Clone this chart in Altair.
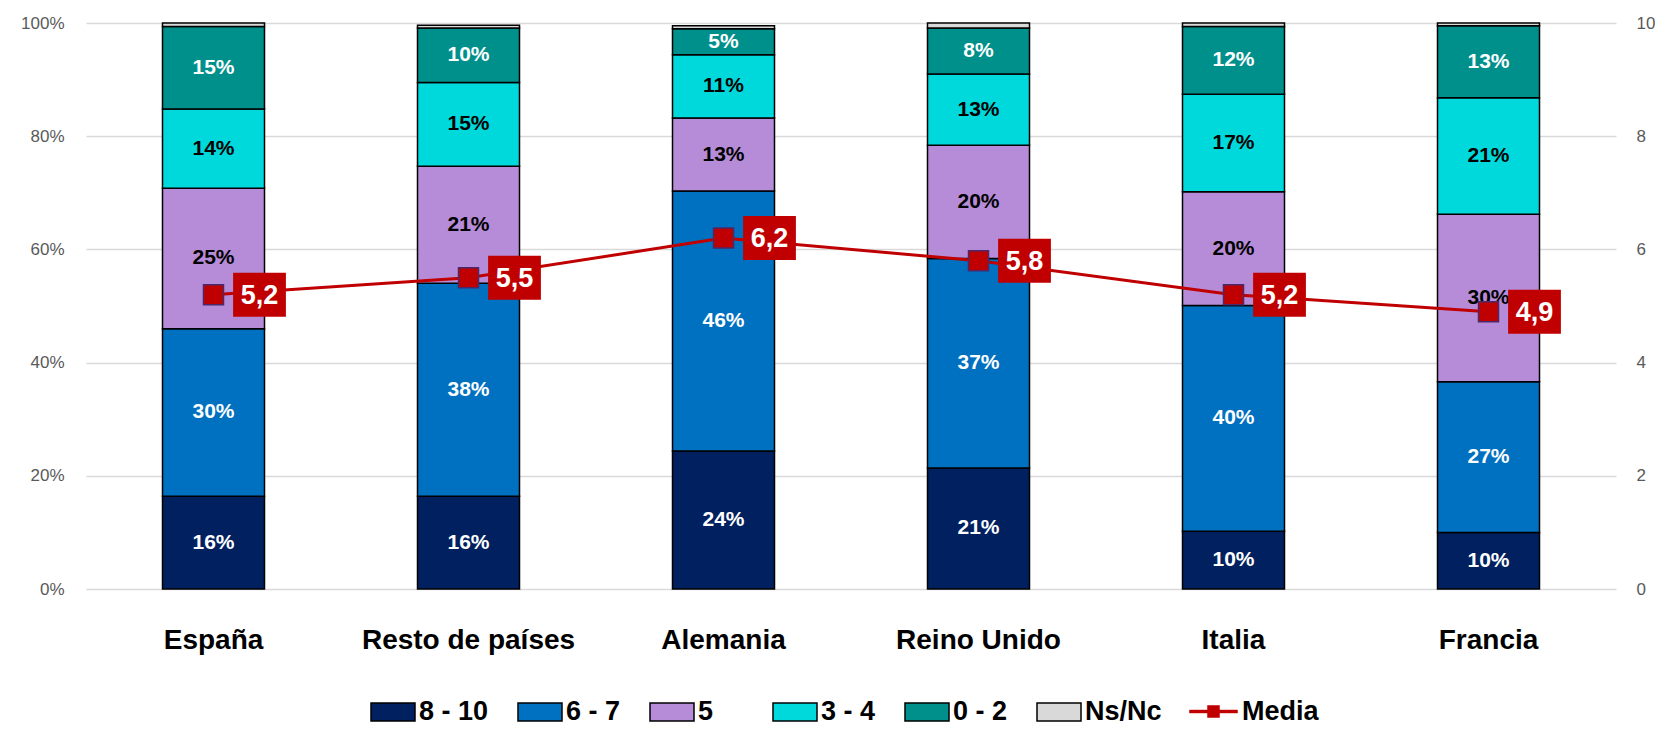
import altair as alt
import pandas as pd

FONT = "Liberation Sans"

paises = ["España", "Resto de países", "Alemania", "Reino Unido", "Italia", "Francia"]
categorias = ["8 - 10", "6 - 7", "5", "3 - 4", "0 - 2", "Ns/Nc"]
colores = ["#002060", "#0070C0", "#B68CD8", "#00D9DC", "#00908C", "#D9D9D9"]

v_8_10 = [16.4, 16.4, 24.4, 21.4, 10.2, 10.0]
v_6_7 = [29.6, 37.6, 45.9, 37.0, 39.9, 26.6]
v_5 = [24.8, 20.7, 12.9, 20.0, 20.1, 29.6]
v_3_4 = [14.0, 14.8, 11.2, 12.6, 17.2, 20.6]
v_0_2 = [14.6, 9.6, 4.6, 8.1, 12.0, 12.7]
v_nsnc = [0.6, 0.5, 0.5, 0.9, 0.6, 0.5]
media = [5.2, 5.5, 6.2, 5.8, 5.2, 4.9]

series = [v_8_10, v_6_7, v_5, v_3_4, v_0_2, v_nsnc]
rows = []
for k, (cat, vals) in enumerate(zip(categorias, series)):
    for p, v in zip(paises, vals):
        rows.append({"pais": p, "categoria": cat, "valor": v, "orden": k})
df = pd.DataFrame(rows)
mdf = pd.DataFrame({"pais": paises, "media": media, "serie": ["Media"] * len(paises)})

x_enc = alt.X(
    "pais:N", sort=paises,
    scale=alt.Scale(paddingInner=0.6, paddingOuter=0.3),
    axis=alt.Axis(title=None, labelAngle=0, labelFont=FONT, labelFontSize=28,
                  labelFontWeight="bold", labelColor="black", labelPadding=37,
                  labelBaseline="top", ticks=False, tickSize=0, domain=False, labelLimit=400),
)

y_axis_left = alt.Axis(title=None, orient="left", values=[0, 20, 40, 60, 80, 100],
                       labelExpr="datum.value + '%'", grid=True, domain=False, ticks=False,
                       labelColor="#595959", labelFontSize=17, labelPadding=22,
                       gridColor="#D9D9D9", gridWidth=1.3)
y_scale_left = alt.Scale(domain=[0, 100], nice=False)

bars = alt.Chart(df).mark_bar(stroke="black", strokeWidth=1.5, opacity=1).encode(
    x=x_enc,
    y=alt.Y("valor:Q", stack="zero", scale=y_scale_left, axis=y_axis_left),
    color=alt.Color(
        "categoria:N",
        scale=alt.Scale(domain=categorias, range=colores),
        legend=alt.Legend(
            title=None, orient="none", legendX=284, legendY=666, direction="horizontal",
            symbolType="M-1,-0.41H1V0.41H-1Z", symbolSize=1936,
            symbolStrokeColor="black", symbolStrokeWidth=1.5, symbolOpacity=1,
            labelFont=FONT, labelFontSize=27, labelFontWeight="bold", labelColor="black",
            labelOffset=3, columnPadding=26, padding=0, labelLimit=300,
            labelExpr="datum.label == '5' ? '5\u00a0\u00a0\u00a0\u00a0\u200b' : datum.label",
        ),
    ),
    order=alt.Order("orden:Q", sort="ascending"),
)

labels = (
    alt.Chart(df)
    .transform_stack(stack="valor", groupby=["pais"], as_=["v0", "v1"],
                     sort=[alt.SortField("orden", order="ascending")])
    .transform_filter("datum.categoria != 'Ns/Nc'")
    .transform_calculate(mid="(datum.v0 + datum.v1) / 2",
                         txt="format(datum.valor, '.0f') + '%'")
    .mark_text(font=FONT, fontSize=21, fontWeight="bold", baseline="middle")
    .encode(
        x=x_enc,
        y=alt.Y("mid:Q", scale=y_scale_left, axis=y_axis_left),
        text="txt:N",
        color=alt.condition("datum.categoria == '5' || datum.categoria == '3 - 4'",
                            alt.value("black"), alt.value("white")),
    )
)

y_axis_right = alt.Axis(title=None, orient="right", values=[0, 2, 4, 6, 8, 10], grid=False,
                        domain=False, ticks=False, labelColor="#595959", labelFontSize=17,
                        labelPadding=20)
y_scale_right = alt.Scale(domain=[0, 10], nice=False)
y_media = alt.Y("media:Q", scale=y_scale_right, axis=y_axis_right)

line = alt.Chart(mdf).mark_line(strokeWidth=3).encode(
    x=x_enc,
    y=y_media,
    stroke=alt.Stroke(
        "serie:N",
        scale=alt.Scale(domain=["Media"], range=["#C00000"]),
        legend=alt.Legend(
            title=None, orient="none", legendX=1103, legendY=664,
            symbolType="M-1,-0.06H1V0.06H-1Z M-0.25,-0.25H0.25V0.25H-0.25Z",
            symbolSize=2304, symbolFillColor="#C00000", symbolStrokeWidth=0.5,
            labelFont=FONT, labelFontSize=27, labelFontWeight="bold", labelColor="black",
            labelOffset=4, padding=0,
        ),
    ),
)

points = alt.Chart(mdf).mark_point(shape="square", filled=True, size=400, color="#C00000",
                                   stroke="#4B2869", strokeWidth=1.5, opacity=1).encode(
    x=x_enc, y=y_media)

boxes = alt.Chart(mdf).mark_point(shape="M-1.2,-1H1.2V1H-1.2Z", filled=True, size=1936,
                                  color="#C00000", opacity=1, strokeWidth=0,
                                  xOffset=46).encode(x=x_enc, y=y_media)

box_text = (
    alt.Chart(mdf)
    .transform_calculate(etiqueta="replace(format(datum.media, '.1f'), '.', ',')")
    .mark_text(font=FONT, fontSize=27, fontWeight="bold", color="white", dx=46, dy=1,
               baseline="middle")
    .encode(x=x_enc, y=y_media, text="etiqueta:N")
)

chart = (
    alt.layer(alt.layer(bars, labels), alt.layer(line, points, boxes, box_text))
    .resolve_scale(y="independent")
    .properties(width=1530, height=566,
                padding={"left": 78, "top": 15, "right": 39, "bottom": 140},
                autosize=alt.AutoSizeParams(type="none"))
    .configure_view(stroke=None)
    .configure_axis(labelFont=FONT)
)

chart.save("out.html", embed_options={"renderer": "svg", "actions": False})
